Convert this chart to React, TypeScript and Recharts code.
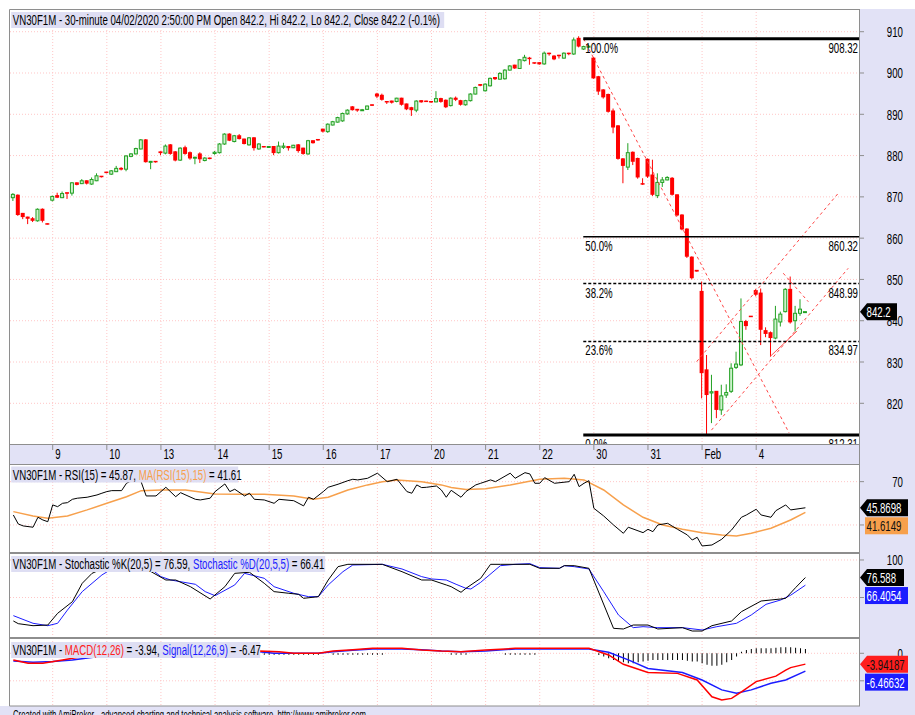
import React from "react";
import { ComposedChart, Bar, Line, XAxis, YAxis, CartesianGrid, ReferenceLine } from "recharts";

// 30-minute candles [open, high, low, close], one array per session
const jan08 = [
  [869.8, 870.9, 869.0, 870.6], [870.4, 870.6, 865.4, 865.6], [866.0, 866.1, 864.6, 865.1], [865.1, 865.2, 863.4, 864.7],
  [864.7, 865.1, 863.9, 864.2], [864.2, 867.2, 864.0, 867.0], [867.0, 867.2, 863.8, 864.2], [863.5, 863.6, 863.3, 863.4],
];
const jan09 = [
  [869.2, 870.3, 868.9, 870.1], [870.3, 871.0, 869.7, 869.8], [869.8, 871.3, 869.7, 870.8], [871.0, 871.1, 869.5, 870.8],
  [870.9, 873.6, 870.3, 873.4], [873.4, 873.5, 872.8, 872.9], [873.2, 874.3, 873.1, 873.9], [873.9, 874.0, 873.0, 873.2],
  [873.1, 874.7, 872.9, 874.2], [873.9, 875.7, 873.8, 875.1], [875.0, 875.0, 874.7, 874.8],
];
const jan10 = [
  [876.0, 876.0, 875.7, 875.8], [875.5, 876.5, 875.3, 876.3], [876.1, 877.5, 876.0, 876.9], [876.9, 877.2, 876.4, 876.6],
  [876.7, 880.1, 876.2, 879.9], [879.8, 880.6, 879.6, 880.4], [880.4, 881.9, 880.3, 881.7], [881.6, 884.0, 881.5, 883.8],
  [883.8, 884.0, 878.3, 878.4], [878.4, 878.7, 876.7, 878.6], [878.6, 878.6, 878.3, 878.4],
];
const jan13 = [
  [880.9, 881.0, 880.1, 880.6], [880.6, 882.7, 880.3, 882.3], [882.6, 882.8, 880.2, 880.4], [880.9, 881.1, 878.6, 878.8],
  [878.9, 882.0, 878.7, 881.8], [881.9, 882.4, 880.2, 880.4], [880.7, 881.0, 879.0, 879.3], [879.4, 879.7, 877.9, 879.6],
  [880.4, 880.8, 878.2, 879.1], [878.8, 879.6, 878.6, 879.4], [879.4, 879.5, 879.1, 879.2],
];
const jan14 = [
  [880.5, 881.1, 880.2, 880.8], [880.7, 883.0, 880.5, 882.8], [882.8, 885.4, 882.6, 885.2], [885.2, 885.4, 883.5, 883.6],
  [883.4, 885.0, 883.2, 884.8], [884.8, 885.2, 883.9, 884.0], [884.0, 884.1, 882.7, 882.8], [882.6, 884.5, 882.4, 884.3],
  [884.3, 884.5, 881.2, 881.8], [881.6, 883.0, 881.4, 882.8], [882.2, 882.3, 882.0, 882.1],
];
const jan15 = [
  [882.0, 882.3, 881.9, 882.2], [882.2, 882.3, 880.1, 880.6], [880.7, 883.4, 880.5, 882.3], [882.0, 883.1, 881.6, 882.3],
  [882.2, 882.3, 881.2, 881.8], [881.9, 882.6, 881.8, 882.5], [882.6, 882.8, 880.7, 881.1], [881.8, 881.9, 880.2, 880.4],
  [880.4, 883.8, 880.2, 883.6], [883.6, 883.7, 882.9, 883.0], [883.9, 884.0, 883.6, 883.7],
];
const jan16 = [
  [886.4, 886.5, 885.6, 885.8], [885.8, 887.8, 885.5, 887.6], [887.4, 888.4, 887.3, 888.2], [888.1, 889.4, 888.0, 889.2],
  [888.4, 890.4, 888.2, 890.2], [890.1, 891.2, 889.9, 891.0], [891.8, 892.0, 890.9, 891.0], [891.2, 891.3, 890.6, 890.9],
  [890.9, 891.3, 890.8, 891.1], [891.2, 892.1, 891.1, 892.0], [892.3, 892.4, 892.0, 892.1],
];
const jan17 = [
  [894.9, 895.2, 893.9, 894.3], [894.6, 895.0, 893.3, 893.5], [893.1, 893.2, 892.5, 892.9], [893.2, 893.3, 892.6, 892.8],
  [893.1, 894.0, 892.9, 893.9], [893.9, 894.0, 892.1, 892.3], [892.5, 892.6, 891.0, 891.2], [891.6, 891.8, 889.6, 891.0],
  [891.0, 893.4, 890.5, 893.2], [893.3, 893.4, 892.8, 892.9], [893.2, 893.3, 893.0, 893.1],
];
const jan20 = [
  [893.1, 893.2, 892.8, 892.9], [893.0, 895.6, 892.9, 893.8], [893.8, 894.0, 892.8, 893.0], [893.4, 893.6, 891.5, 891.7],
  [892.1, 894.1, 891.9, 893.9], [893.9, 894.3, 893.2, 893.5], [893.3, 893.5, 892.1, 892.3], [892.3, 893.5, 892.1, 893.3],
  [893.3, 895.1, 893.1, 894.9], [894.9, 896.7, 894.8, 896.5], [897.2, 897.3, 896.8, 896.9],
];
const jan21 = [
  [895.7, 897.5, 895.5, 897.3], [896.9, 898.9, 896.7, 898.7], [898.9, 899.0, 898.3, 898.5], [898.5, 900.2, 898.4, 899.9],
  [898.6, 900.9, 898.4, 900.7], [900.7, 901.9, 900.6, 901.7], [901.9, 902.0, 901.0, 901.1], [901.1, 903.4, 901.0, 903.2],
  [903.0, 904.4, 902.8, 903.8], [903.6, 903.9, 902.0, 903.4], [902.5, 902.5, 902.2, 902.3],
];
const jan22 = [
  [902.5, 902.6, 902.0, 902.1], [902.2, 905.2, 902.0, 904.8], [904.8, 904.9, 904.2, 904.6], [904.1, 904.3, 903.1, 903.3],
  [904.3, 904.4, 903.5, 904.1], [903.6, 905.0, 903.5, 904.8], [904.8, 904.9, 904.3, 904.6], [904.6, 908.6, 904.4, 908.0],
  [908.4, 908.9, 906.2, 906.4], [905.8, 906.6, 905.6, 906.4], [906.3, 906.9, 906.0, 906.5],
];
const jan30 = [
  [903.6, 903.9, 898.6, 898.7], [899.1, 899.3, 894.7, 895.5], [895.9, 896.1, 893.8, 894.1], [894.8, 895.0, 890.4, 890.6],
  [890.8, 891.4, 885.4, 886.8], [887.2, 887.4, 879.0, 879.2], [879.2, 879.4, 873.3, 877.5], [877.2, 883.0, 876.5, 880.7],
  [880.8, 881.0, 877.7, 878.5], [879.3, 879.5, 874.4, 874.7], [873.2, 874.5, 872.9, 873.0],
];
const jan31 = [
  [879.1, 879.3, 874.6, 874.9], [875.3, 879.0, 870.2, 870.5], [870.3, 875.7, 869.7, 873.5], [873.5, 874.8, 872.4, 874.1],
  [874.1, 875.0, 874.0, 874.7], [874.5, 874.8, 870.3, 870.5], [870.5, 870.6, 865.3, 865.5], [865.6, 865.8, 861.9, 862.1],
  [862.2, 862.4, 855.2, 855.5], [855.4, 855.6, 850.0, 850.3], [852.2, 852.2, 851.9, 851.9],
];
const feb03 = [
  [847.1, 849.5, 821.2, 827.3], [828.1, 831.7, 812.3, 822.0], [822.5, 826.9, 815.2, 822.8], [822.9, 822.9, 816.4, 818.4],
  [818.4, 824.5, 817.2, 821.8], [822.0, 824.6, 821.3, 822.6], [822.9, 829.7, 822.5, 828.5], [828.7, 832.5, 828.3, 829.5],
  [829.3, 845.4, 829.0, 839.8], [839.8, 840.2, 837.8, 838.7], [841.1, 841.1, 840.9, 840.9],
];
const feb04 = [
  [847.3, 847.7, 845.9, 846.3], [846.7, 847.8, 834.1, 837.8], [837.6, 838.4, 836.0, 836.8], [837.1, 837.4, 831.3, 835.8],
  [835.8, 843.6, 835.5, 840.4], [839.7, 842.2, 838.6, 841.6], [842.2, 847.9, 842.0, 847.6], [847.6, 850.7, 839.3, 839.6],
  [840.0, 843.6, 837.4, 841.8], [841.8, 845.2, 841.2, 842.8], [842.2, 842.2, 842.2, 842.2],
];
const sessions = [jan08, jan09, jan10, jan13, jan14, jan15, jan16, jan17, jan20, jan21, jan22, jan30, jan31, feb03, feb04];
const dayLabels = ["9", "10", "13", "14", "15", "16", "17", "20", "21", "22", "30", "31", "Feb", "4"];

const priceTicks = [820, 830, 840, 850, 860, 870, 880, 890, 900, 910];
const fibPcts = ["100.0%", "50.0%", "38.2%", "23.6%", "0.0%"];
const fibPrices = [908.32, 860.32, 848.99, 834.97, 812.31];
const fibFromBar = 115.85;
// hand-drawn trend lines: [bar1, price1, bar2, price2]
const trendLines = [
  [115.9, 908.3, 157.7, 812.8],
  [141.9, 813.5, 169.7, 852.7],
  [138.9, 830.1, 167.7, 870.9],
  [156.5, 851.5, 161.6, 844.6],
];
const supportLine = [153.8, 831.3, 159.3, 837.5];

// indicator readings [bar, value]
const rsiPts = [
  [0, 39.2], [1, 30.9], [2, 29.1], [4, 27.9], [5, 37.1], [6, 34.6], [7, 33.0], [8, 48.5], [9, 46.9], [10, 50.0], [11, 50.6],
  [12, 53.7], [13, 54.7], [15, 55.6], [17, 57.7], [18, 59.3], [19, 60.8], [20, 61.7], [22, 61.7], [23, 68.5], [24, 70.9],
  [25, 76.0], [26, 69.5], [27, 56.8], [29, 56.8], [31, 64.8], [33, 56.1], [34, 59.8], [37, 53.7], [38, 53.1], [40, 54.7],
  [41, 60.8], [43, 67.9], [44, 60.8], [45, 63.0], [47, 56.8], [48, 59.3], [49, 53.7], [51, 53.1], [53, 50.0], [54, 53.7],
  [57, 52.4], [59, 47.6], [60, 55.6], [61, 53.7], [63, 60.8], [64, 64.8], [66, 67.6], [68, 70.9], [69, 72.2], [70, 71.6],
  [72, 73.1], [74, 77.8], [76, 70.0], [78, 72.2], [80, 60.8], [81, 59.3], [82, 67.0], [83, 64.5], [84, 64.8], [86, 66.0],
  [87, 62.3], [88, 55.6], [89, 62.0], [91, 55.6], [92, 60.8], [94, 67.0], [95, 68.5], [97, 71.6], [98, 70.0], [101, 77.8],
  [102, 73.1], [104, 78.3], [105, 77.1], [106, 68.5], [107, 68.5], [108, 73.7], [110, 68.5], [113, 70.0], [114, 76.8],
  [115, 65.4], [116, 68.5], [117, 70.9], [118, 45.4], [120, 38.3], [122, 30.0], [124, 22.3], [125, 27.9], [128, 22.9],
  [129, 26.0], [130, 23.8], [131, 30.0], [133, 31.5], [135, 26.0], [137, 20.8], [138, 16.1], [139, 18.6], [140, 10.6],
  [142, 11.5], [144, 16.8], [146, 25.4], [148, 37.1], [149, 39.2], [151, 44.5], [152, 39.2], [154, 37.1], [155, 43.2],
  [157, 48.5], [158, 43.9], [161, 45.87],
];
const rsiMaPts = [
  [0, 42.3], [4, 38.3], [7, 36.2], [11, 38.3], [15, 43.9], [19, 50.0], [23, 56.1], [26, 61.7], [30, 62.3], [35, 62.3],
  [41, 58.6], [46, 58.3], [51, 58.3], [57, 56.8], [61, 53.7], [64, 55.6], [68, 62.3], [72, 67.0], [75, 70.0], [78, 71.6],
  [83, 70.0], [87, 67.0], [89, 64.6], [92, 62.8], [96, 63.5], [101, 67.0], [107, 72.2], [112, 73.1], [116, 71.6],
  [120, 62.3], [124, 48.5], [128, 37.1], [132, 30.0], [136, 26.0], [140, 22.9], [144, 20.8], [147, 19.8], [150, 22.3],
  [154, 27.0], [158, 34.6], [161, 41.61],
];
const stochKPts = [
  [0, 18.7], [1, 15.1], [4, 12.4], [7, 13.3], [9, 28.9], [12, 44.4], [14, 68.9], [16, 82.2], [18, 88.0], [20, 95.0],
  [26, 95.0], [28, 84.4], [31, 73.3], [33, 73.3], [36, 64.4], [40, 48.0], [43, 64.4], [45, 82.2], [48, 83.6], [51, 68.9],
  [53, 57.8], [56, 55.6], [58, 54.2], [59, 48.9], [62, 51.1], [64, 73.3], [66, 91.1], [68, 94.2], [75, 94.2], [79, 84.4],
  [83, 73.3], [85, 73.3], [88, 66.7], [89, 64.4], [91, 56.9], [92, 62.2], [95, 75.6], [97, 94.2], [99, 94.2], [105, 94.2],
  [107, 88.9], [111, 88.9], [112, 92.4], [114, 92.4], [117, 88.9], [122, 8.9], [124, 8.0], [126, 13.3], [129, 13.3],
  [131, 8.0], [136, 9.8], [138, 5.3], [140, 5.3], [142, 12.4], [146, 18.7], [148, 31.1], [152, 45.3], [156, 48.0],
  [157, 48.9], [159, 63.1], [161, 76.59],
];
const stochDPts = [
  [0, 25.8], [4, 15.6], [7, 12.4], [9, 15.6], [11, 33.3], [14, 57.8], [18, 80.0], [21, 92.0], [27, 93.0], [30, 77.8],
  [32, 73.3], [37, 67.6], [39, 57.8], [41, 52.4], [45, 66.7], [47, 82.2], [51, 75.6], [53, 64.4], [57, 55.6], [60, 51.1],
  [62, 51.1], [64, 66.7], [67, 84.4], [69, 93.3], [75, 94.2], [79, 88.0], [83, 77.8], [85, 74.7], [88, 73.3], [90, 67.6],
  [92, 62.2], [93, 61.3], [95, 70.2], [99, 92.4], [102, 94.2], [105, 95.1], [107, 89.8], [111, 88.9], [112, 92.4],
  [114, 91.1], [117, 88.0], [120, 57.8], [123, 26.7], [126, 9.8], [128, 11.1], [131, 9.8], [136, 9.8], [140, 6.7],
  [143, 11.1], [147, 15.6], [150, 26.7], [153, 40.9], [156, 46.7], [158, 53.0], [161, 66.41],
];
const macdPts = [
  [0, -2.4], [3, -3.6], [6, -3.6], [10, -2.4], [14, -1.2], [20, -0.5], [30, 0.2], [40, 0.5], [50, 0.8], [54, 0.6],
  [57, 0.0], [62, 0.0], [65, 0.8], [69, 1.3], [73, 1.8], [79, 1.8], [83, 1.2], [87, 0.8], [91, 0.6], [96, 1.2],
  [102, 1.8], [109, 1.8], [117, 1.8], [121, -0.6], [124, -4.0], [129, -7.0], [135, -7.3], [139, -9.7], [142, -15.8],
  [144, -17.0], [146, -16.4], [148, -14.0], [151, -10.3], [155, -8.3], [157, -6.1], [158, -5.2], [161, -3.94],
];
const signalPts = [
  [0, -2.8], [4, -3.3], [8, -3.0], [12, -2.4], [17, -1.3], [25, -0.3], [35, 0.3], [45, 0.5], [50, 0.6], [53, 0.0],
  [62, 0.0], [65, 0.6], [69, 1.1], [73, 1.6], [79, 1.6], [83, 1.3], [87, 0.8], [91, 0.6], [96, 0.8], [102, 1.6],
  [109, 1.6], [117, 1.6], [121, 0.4], [125, -2.4], [129, -5.5], [136, -7.0], [140, -9.7], [144, -13.3], [147, -14.5],
  [150, -13.3], [154, -10.9], [157, -9.7], [161, -6.47],
];
const histPts = [
  [51, -0.5], [52, -0.5], [53, -0.5], [54, -0.5], [55, -0.5], [56, -0.5], [57, -0.5], [58, -0.5], [59, -0.5], [60, -0.5],
  [61, -0.5], [62, -0.5], [65, -0.5], [66, -0.5], [67, -0.5], [68, -0.5], [69, -0.5], [70, -0.5], [71, -0.5], [72, -0.5],
  [73, -0.5], [74, -0.5], [75, -0.5], [89, -0.5], [90, -0.5], [91, -0.5], [92, -0.5], [100, -0.5], [101, -0.5],
  [102, -0.5], [103, -0.5], [104, -0.5], [105, -0.5], [106, -0.5],
  [119, -0.6], [120, -1.2], [121, -1.8], [122, -2.4], [123, -3.0], [124, -3.3], [125, -3.6], [126, -3.6], [127, -3.3],
  [128, -3.0], [129, -2.7], [130, -2.4], [131, -2.4], [132, -2.4], [133, -2.4], [134, -2.4], [135, -2.4], [136, -2.4],
  [137, -2.7], [138, -3.0], [139, -3.0], [140, -3.6], [141, -4.2], [142, -4.5], [143, -4.5], [144, -4.2], [145, -3.3],
  [146, -2.4], [147, -1.2], [148, 0.6], [149, 1.2], [150, 1.6], [151, 1.8], [152, 1.8], [153, 1.8], [154, 1.8],
  [155, 2.0], [156, 2.2], [157, 2.2], [158, 2.2], [159, 2.0], [160, 1.8], [161, 1.6],
];

const lastClose = 842.2;
const rsiLast = [45.8698, 41.6149];
const stochLast = [76.588, 66.4054];
const macdLast = [-3.94187, -6.46632];

const priceTitle = "VN30F1M - 30-minute 04/02/2020 2:50:00 PM Open 842.2, Hi 842.2, Lo 842.2, Close 842.2 (-0.1%)";

// ---- layout / style
const W = 915;
const X_DOMAIN: [number, number] = [-0.68, 172.1];
const FONT = "'Liberation Sans', Arial, sans-serif";
const FS = 15;
const SX = 0.645;
const GRID = "#ffc6c6";
const AXIS = "#8e8e8e";
const LAV = "#e2e2f6";
const UP = "#22a022";
const DOWN = "#ff0000";
const BLUE = "#1c1cff";
const ORANGE = "#f7a04c";

const dayStarts: number[] = [];
let barCount = 0;
sessions.forEach((s, k) => {
  if (k > 0) dayStarts.push(barCount);
  barCount += s.length;
});
const candles = sessions.flat().map(([o, h, l, c], i) => ({ i, o, h, l, c, range: [l - 0.05, h + 0.05] }));
const rows = (pts: number[][]) => pts.map(([i, v]) => ({ i, v }));

function T({ x, y, size = FS, anchor = "start", fill = "#000", children }: any) {
  return (
    <text
      transform={`translate(${x},${y}) scale(${SX},1)`}
      fontFamily={FONT}
      fontSize={size}
      textAnchor={anchor}
      fill={fill}
      style={{ whiteSpace: "pre" }}
    >
      {children}
    </text>
  );
}

function Candle(props: any) {
  const { x, y, width, height } = props;
  const d = props.payload ?? props;
  const top = Math.min(y, y + height);
  const hgt = Math.abs(height);
  const [lo, hi] = d.range;
  const py = (v: number) => top + ((hi - v) / (hi - lo)) * hgt;
  const cx = x + width / 2;
  const up = d.c >= d.o;
  const bTop = py(Math.max(d.o, d.c));
  const bBot = py(Math.min(d.o, d.c));
  const col = up ? UP : DOWN;
  return (
    <g>
      <line x1={cx} x2={cx} y1={py(d.h)} y2={py(d.l)} stroke={col} strokeWidth={1} />
      {up ? (
        <rect x={cx - 1.5} y={bTop} width={3} height={Math.max(bBot - bTop, 1)} fill="#cdf2cd" stroke={UP} strokeWidth={1} />
      ) : (
        <rect x={cx - 2} y={bTop - 0.5} width={4} height={Math.max(bBot - bTop, 1) + 0.5} fill={DOWN} />
      )}
    </g>
  );
}

function DayTick(p: any) {
  const k = dayStarts.indexOf(p.payload.value);
  return (
    <g>
      <line x1={p.x} x2={p.x} y1={p.y} y2={p.y + 5} stroke={AXIS} />
      <T x={p.x + 2.5} y={p.y + 14}>{dayLabels[k]}</T>
    </g>
  );
}

// right-axis tick; only the values in `shown` get a label (others sit under the value badges)
const valueTick = (shown?: number[]) => (p: any) => {
  const v = p.payload.value;
  return (
    <g>
      <line x1={p.x} x2={p.x + 4} y1={p.y} y2={p.y} stroke={AXIS} />
      {(!shown || shown.includes(v)) && (
        <T x={p.x + 43} y={p.y + 5.5} anchor="end">{String(v)}</T>
      )}
    </g>
  );
};

function Badge({ x, cy, text, bg, fg, w, arrow }: any) {
  const h = 17;
  const t = cy - h / 2;
  return (
    <g>
      {arrow ? (
        <polygon points={`${x},${cy} ${x + 7},${t} ${x + w},${t} ${x + w},${t + h} ${x + 7},${t + h}`} fill={bg} />
      ) : (
        <rect x={x + 5} y={t} width={w - 5} height={h} fill={bg} />
      )}
      <T x={x + 6.5} y={cy + 5.5} fill={fg}>{text}</T>
    </g>
  );
}

const badges = (items: any[]) => (p: any) => {
  const vb = p.viewBox || {};
  const right = (vb.x ?? 0) + (vb.width ?? 0);
  return (
    <g>
      {items.map((b, k) => (
        <Badge key={k} x={right} cy={vb.y + k * 18} {...b} />
      ))}
    </g>
  );
};

const PLOT_BOTTOM = 436;
const fibLabel = (pct: string, val: string) => (p: any) => {
  const vb = p.viewBox || {};
  const top = vb.y - 4;
  return (
    <svg x={vb.x} y={top} width={vb.width} height={Math.max(0, PLOT_BOTTOM - top)} overflow="hidden">
      <T x={2} y={18}>{pct}</T>
      <T x={vb.width - 2} y={18} anchor="end">{val}</T>
    </svg>
  );
};

function Title({ x, y, w, parts }: any) {
  return (
    <g>
      <rect x={x - 1.5} y={y - 13} width={w} height={16} fill="#dedef3" />
      <T x={x} y={y}>
        {parts.map(([s, c]: any, k: number) => (
          <tspan key={k} fill={c}>{s}</tspan>
        ))}
      </T>
    </g>
  );
}

const yAxisProps = {
  orientation: "right" as const,
  width: 55,
  allowDataOverflow: true,
  interval: 0,
  tickSize: 0,
  tickMargin: 0,
  tickLine: false,
  axisLine: false,
};

export default function App() {
  return (
    <div style={{ position: "relative", width: W, height: 715, overflow: "hidden", background: "#fff" }}>
      <style>{"body{margin:0}"}</style>
      <div style={{ position: "absolute", left: 860, top: 9, width: 55, height: 697, background: LAV }} />
      <div style={{ position: "absolute", left: 10, top: 445, width: 850, height: 19, background: LAV }} />
      <div style={{ position: "absolute", left: 0, top: 706, width: W, height: 9, background: LAV }} />

      {/* price pane */}
      <div style={{ position: "absolute", left: 0, top: 9 }}>
        <ComposedChart width={W} height={456} data={candles} margin={{ top: 0, right: 0, bottom: 0, left: 10 }}>
          <CartesianGrid stroke={GRID} strokeDasharray="1 2" horizontalValues={priceTicks} verticalValues={dayStarts} />
          <XAxis
            dataKey="i"
            type="number"
            domain={X_DOMAIN}
            allowDataOverflow
            ticks={dayStarts}
            interval={0}
            height={20}
            tickSize={0}
            tickMargin={0}
            tickLine={false}
            axisLine={false}
            tick={(p: any) => <DayTick {...p} />}
          />
          <YAxis {...yAxisProps} domain={[809.9, 915.5]} ticks={priceTicks} tick={valueTick()} />
          <Bar dataKey="range" barSize={4} isAnimationActive={false} shape={(p: any) => <Candle {...p} />} />
          {trendLines.map(([a, p1, b, p2], k) => (
            <ReferenceLine
              key={"t" + k}
              segment={[{ x: a, y: p1 }, { x: b, y: p2 }]}
              stroke="#ff4646"
              strokeDasharray="3 3"
              ifOverflow="visible"
            />
          ))}
          <ReferenceLine
            segment={[{ x: supportLine[0], y: supportLine[1] }, { x: supportLine[2], y: supportLine[3] }]}
            stroke="#ff5a5a"
            ifOverflow="visible"
          />
          {fibPrices.map((v, k) => (
            <ReferenceLine
              key={"f" + k}
              segment={[{ x: fibFromBar, y: v }, { x: X_DOMAIN[1], y: v }]}
              stroke="#000"
              strokeWidth={k === 0 || k === 4 ? 3 : 1.5}
              strokeDasharray={k === 2 || k === 3 ? "3 2" : undefined}
              ifOverflow="visible"
              label={fibLabel(fibPcts[k], v.toFixed(2))}
            />
          ))}
          <ReferenceLine
            y={lastClose}
            stroke="none"
            zIndex={2000}
            label={badges([{ text: lastClose.toFixed(1), bg: "#000", fg: "#fff", w: 37, arrow: true }])}
          />
        </ComposedChart>
      </div>

      {/* RSI pane */}
      <div style={{ position: "absolute", left: 0, top: 464 }}>
        <ComposedChart width={W} height={89} margin={{ top: 0, right: 0, bottom: 0, left: 10 }}>
          <CartesianGrid stroke={GRID} strokeDasharray="1 2" horizontalValues={[30, 70]} verticalValues={dayStarts} />
          <XAxis dataKey="i" type="number" domain={X_DOMAIN} allowDataOverflow ticks={dayStarts} hide />
          <YAxis {...yAxisProps} domain={[4.1, 86.3]} ticks={[30, 70]} tick={valueTick([70])} />
          <Line data={rows(rsiMaPts)} dataKey="v" stroke={ORANGE} strokeWidth={1.5} dot={false} isAnimationActive={false} />
          <Line data={rows(rsiPts)} dataKey="v" stroke="#000" strokeWidth={1} dot={false} isAnimationActive={false} />
          <ReferenceLine
            y={rsiLast[0]}
            stroke="none"
            zIndex={2000}
            label={badges([
              { text: String(rsiLast[0]), bg: "#000", fg: "#fff", w: 48, arrow: true },
              { text: String(rsiLast[1]), bg: ORANGE, fg: "#111", w: 48 },
            ])}
          />
        </ComposedChart>
      </div>

      {/* Stochastic pane */}
      <div style={{ position: "absolute", left: 0, top: 553 }}>
        <ComposedChart width={W} height={85} margin={{ top: 0, right: 0, bottom: 0, left: 10 }}>
          <CartesianGrid stroke={GRID} strokeDasharray="1 2" horizontalValues={[50, 100]} verticalValues={dayStarts} />
          <XAxis dataKey="i" type="number" domain={X_DOMAIN} allowDataOverflow ticks={dayStarts} hide />
          <YAxis {...yAxisProps} domain={[-4, 109.3]} ticks={[50, 100]} tick={valueTick([100])} />
          <Line data={rows(stochDPts)} dataKey="v" stroke={BLUE} strokeWidth={1} dot={false} isAnimationActive={false} />
          <Line data={rows(stochKPts)} dataKey="v" stroke="#000" strokeWidth={1} dot={false} isAnimationActive={false} />
          <ReferenceLine
            y={stochLast[0]}
            stroke="none"
            zIndex={2000}
            label={badges([
              { text: String(stochLast[0]), bg: "#000", fg: "#fff", w: 44, arrow: true },
              { text: String(stochLast[1]), bg: BLUE, fg: "#fff", w: 48 },
            ])}
          />
        </ComposedChart>
      </div>

      {/* MACD pane */}
      <div style={{ position: "absolute", left: 0, top: 638 }}>
        <ComposedChart width={W} height={68} data={rows(histPts)} margin={{ top: 0, right: 0, bottom: 0, left: 10 }}>
          <CartesianGrid stroke={GRID} strokeDasharray="1 2" horizontalValues={[-10, 0]} verticalValues={dayStarts} />
          <XAxis dataKey="i" type="number" domain={X_DOMAIN} allowDataOverflow ticks={dayStarts} hide />
          <YAxis {...yAxisProps} domain={[-19.16, 5.56]} ticks={[-10, 0]} tick={valueTick([0])} />
          <Bar dataKey="v" barSize={1} fill="#000" isAnimationActive={false} />
          <Line data={rows(signalPts)} dataKey="v" stroke={BLUE} strokeWidth={1.5} dot={false} isAnimationActive={false} />
          <Line data={rows(macdPts)} dataKey="v" stroke={DOWN} strokeWidth={1.5} dot={false} isAnimationActive={false} />
          <ReferenceLine
            y={macdLast[0]}
            stroke="none"
            zIndex={2000}
            label={badges([
              { text: String(macdLast[0]), bg: "#ff1e1e", fg: "#111", w: 48, arrow: true },
              { text: String(macdLast[1]), bg: BLUE, fg: "#fff", w: 48 },
            ])}
          />
        </ComposedChart>
      </div>

      {/* frame, pane titles, footer */}
      <svg width={W} height={715} style={{ position: "absolute", left: 0, top: 0, pointerEvents: "none" }}>
        <line x1={9.5} y1={9.5} x2={860} y2={9.5} stroke={AXIS} />
        <line x1={9.5} y1={9.5} x2={9.5} y2={706} stroke={AXIS} />
        <line x1={859.5} y1={9.5} x2={859.5} y2={706} stroke={AXIS} />
        <line x1={9.5} y1={444.5} x2={860} y2={444.5} stroke={AXIS} />
        <line x1={9.5} y1={464.5} x2={860} y2={464.5} stroke={AXIS} />
        <rect x={9.5} y={552} width={850} height={2} fill={AXIS} />
        <rect x={9.5} y={637} width={850} height={2} fill={AXIS} />
        <line x1={9.5} y1={706} x2={860} y2={706} stroke={AXIS} />

        <Title x={12.7} y={25} w={433} parts={[[priceTitle, "#000"]]} />
        <Title
          x={12.7}
          y={479.5}
          w={227}
          parts={[["VN30F1M - RSI(15) = 45.87, ", "#000"], ["MA(RSI(15),15)", ORANGE], [" = 41.61", "#000"]]}
        />
        <Title
          x={12.7}
          y={569}
          w={314}
          parts={[["VN30F1M - Stochastic %K(20,5) = 76.59, ", "#000"], ["Stochastic %D(20,5,5)", BLUE], [" = 66.41", "#000"]]}
        />
        <Title
          x={12.7}
          y={655}
          w={249}
          parts={[
            ["VN30F1M - ", "#000"],
            ["MACD(12,26)", "#ff2020"],
            [" = -3.94, ", "#000"],
            ["Signal(12,26,9)", BLUE],
            [" = -6.47", "#000"],
          ]}
        />
        <T x={13} y={719} size={12}>
          Created with AmiBroker - advanced charting and technical analysis software. http://www.amibroker.com
        </T>
      </svg>
    </div>
  );
}
